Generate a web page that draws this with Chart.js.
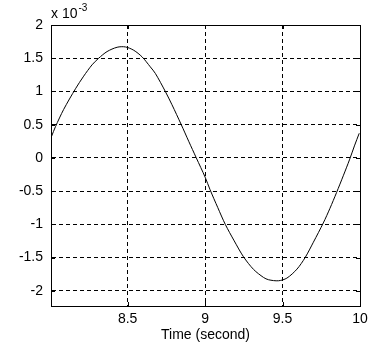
<!DOCTYPE html>
<html>
<head>
<meta charset="utf-8">
<script src="https://cdn.jsdelivr.net/npm/chart.js@4/dist/chart.umd.min.js"></script>
<style>
  html, body { margin: 0; padding: 0; background: #fff; }
  #wrap { width: 384px; height: 344px; }
</style>
</head>
<body>
<div id="wrap"><canvas id="signalChart" width="384" height="344"></canvas></div>
<script>
// time axis (seconds) and signal amplitude (in units of 1e-3)
const timeValues = [
  8.008, 8.034, 8.087, 8.163, 8.216, 8.27, 8.313, 8.367, 8.432, 8.485,
  8.539, 8.593, 8.646, 8.679, 8.743, 8.786, 8.846, 8.894, 8.943, 9.0,
  9.032, 9.082, 9.13, 9.188, 9.248, 9.313, 9.377, 9.41, 9.474, 9.528,
  9.593, 9.646, 9.699, 9.763, 9.806, 9.849, 9.892, 9.932, 9.964, 9.995
];
const signalValues = [
  0.32, 0.47, 0.73, 1.04, 1.23, 1.40, 1.50, 1.60, 1.665, 1.67,
  1.62, 1.52, 1.37, 1.27, 1.00, 0.80, 0.50, 0.25, 0.00, -0.29,
  -0.48, -0.75, -1.00, -1.25, -1.49, -1.68, -1.80, -1.835, -1.85, -1.81,
  -1.675, -1.50, -1.27, -0.98, -0.76, -0.52, -0.27, -0.03, 0.18, 0.37
];
const xTicks = [8.5, 9, 9.5, 10];
const xTickLabels = ["8.5", "9", "9.5", "10"];
const yTicks = [-2, -1.5, -1, -0.5, 0, 0.5, 1, 1.5, 2];
const yTickLabels = ["-2", "-1.5", "-1", "-0.5", "0", "0.5", "1", "1.5", "2"];

const FONT = "'Liberation Sans', Arial, Helvetica, sans-serif";

// small inward tick marks on all four sides + the exponent label
const axisExtras = {
  id: "axisExtras",
  afterDraw(chart) {
    const { ctx, chartArea: a, scales } = chart;
    ctx.save();
    ctx.strokeStyle = "#000";
    ctx.lineWidth = 1;
    ctx.beginPath();
    xTicks.forEach((v) => {
      const px = Math.round(scales.x.getPixelForValue(v)) + 0.5;
      ctx.moveTo(px, a.bottom); ctx.lineTo(px, a.bottom - 4);
      ctx.moveTo(px, a.top); ctx.lineTo(px, a.top + 4);
    });
    yTicks.forEach((v) => {
      const py = Math.round(scales.y.getPixelForValue(v)) + 0.5;
      ctx.moveTo(a.left, py); ctx.lineTo(a.left + 4, py);
      ctx.moveTo(a.right, py); ctx.lineTo(a.right - 4, py);
    });
    ctx.stroke();

    ctx.fillStyle = "#000";
    ctx.textBaseline = "alphabetic";
    ctx.textAlign = "left";
    ctx.font = "14px " + FONT;
    ctx.fillText("x 10", a.left, 18);
    const w = ctx.measureText("x 10").width;
    ctx.font = "10px " + FONT;
    ctx.fillText("-3", a.left + w + 1, 11);
    ctx.restore();
  }
};

const ctx = document.getElementById("signalChart").getContext("2d");
new Chart(ctx, {
  type: "line",
  data: {
    datasets: [
      {
        data: timeValues.map((t, i) => ({ x: t, y: signalValues[i] })),
        borderColor: "#000",
        borderWidth: 1,
        pointRadius: 0,
        fill: false,
        tension: 0.3
      }
    ]
  },
  options: {
    responsive: false,
    animation: false,
    devicePixelRatio: 1,
    layout: { padding: { top: 25, right: 24, left: 0, bottom: 0 } },
    plugins: {
      legend: { display: false },
      tooltip: { enabled: false }
    },
    scales: {
      x: {
        type: "linear",
        min: 8.005,
        max: 10,
        afterBuildTicks: (scale) => {
          scale.ticks = xTicks.map((v) => ({ value: v }));
        },
        afterFit: (scale) => { scale.height = 38; },
        ticks: {
          color: "#000",
          font: { family: FONT, size: 14 },
          padding: 5,
          maxRotation: 0,
          callback: (v) => xTickLabels[xTicks.indexOf(v)]
        },
        grid: {
          color: "#000",
          lineWidth: 1,
          drawTicks: false
        },
        border: { display: true, color: "#000", width: 1, dash: [4, 3] },
        title: {
          display: true,
          text: "Time (second)",
          color: "#000",
          font: { family: FONT, size: 14 },
          padding: { top: 0, bottom: 0 }
        }
      },
      y: {
        type: "linear",
        min: -2.23,
        max: 2,
        afterBuildTicks: (scale) => {
          scale.ticks = yTicks.map((v) => ({ value: v }));
        },
        afterFit: (scale) => { scale.width = 51; },
        ticks: {
          color: "#000",
          font: { family: FONT, size: 14 },
          padding: 8,
          callback: (v) => yTickLabels[yTicks.indexOf(v)]
        },
        grid: {
          color: "#000",
          lineWidth: 1,
          drawTicks: false
        },
        border: { display: true, color: "#000", width: 1, dash: [4, 3] }
      }
    }
  },
  plugins: [
    {
      // solid frame around the plot area
      id: "frame",
      beforeDatasetsDraw(chart) {
        const { ctx, chartArea: a } = chart;
        ctx.save();
        ctx.strokeStyle = "#000";
        ctx.lineWidth = 1;
        ctx.strokeRect(Math.round(a.left) + 0.5, Math.round(a.top) + 0.5,
          Math.round(a.right - a.left), Math.round(a.bottom - a.top));
        ctx.restore();
      }
    },
    axisExtras
  ]
});
</script>
</body>
</html>
